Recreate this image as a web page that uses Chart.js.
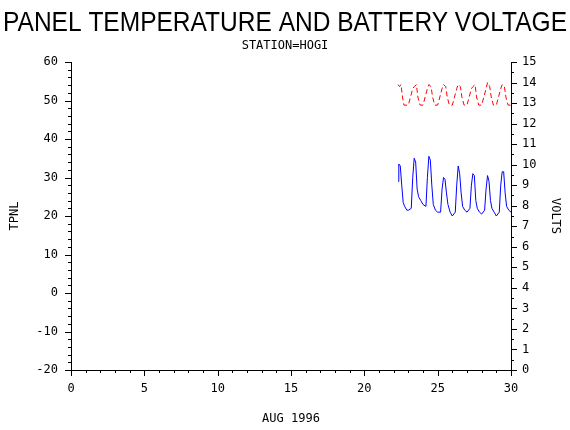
<!DOCTYPE html>
<html><head>
<script src="https://cdn.jsdelivr.net/npm/chart.js@4"></script>
<style>body{margin:0;background:#fff}</style>
</head><body>
<canvas id="chart" width="570" height="430"></canvas>
<script>
const tempX = [22.3,22.35,22.45,22.55,22.65,22.75,22.9,23.0,23.2,23.3,23.4,23.5,23.6,23.7,23.85,24.0,24.2,24.3,24.4,24.5,24.6,24.7,24.85,25.0,25.2,25.3,25.4,25.5,25.6,25.7,25.85,26.0,26.2,26.3,26.4,26.5,26.6,26.7,26.85,27.0,27.2,27.3,27.4,27.5,27.6,27.7,27.85,28.0,28.2,28.3,28.4,28.5,28.6,28.7,28.85,29.0,29.2,29.3,29.4,29.5,29.6,29.7,29.85,30.0];
const tempY = [29,33.5,33,28,23.5,22.5,21.5,21.5,22,30,35,34,27,25,24,23,22.5,30,35.5,34.5,28,23,21.5,21,21,27,30,29.5,26,23,21,20,21,28,33,31,26,22.5,21.5,21,22,28,31,30.5,24,22,21,20.5,21.5,27,30.5,29,24,22,21,20,21,28,31.5,31.5,26,22.5,21.5,21];
const voltX = [22.3,22.4,22.5,22.6,22.7,23.0,23.3,23.4,23.55,23.65,23.8,24.0,24.3,24.4,24.55,24.65,24.8,25.0,25.3,25.4,25.55,25.65,25.8,26.0,26.3,26.4,26.55,26.65,26.8,27.0,27.3,27.4,27.55,27.65,27.8,28.0,28.3,28.4,28.55,28.65,28.8,29.0,29.3,29.4,29.55,29.65,29.8,30.0];
const voltY = [13.9,13.8,13.9,13.3,12.9,12.9,13.7,13.8,13.9,13.3,12.9,12.9,13.7,13.9,13.8,13.3,12.9,12.9,13.7,13.9,13.8,13.3,12.9,12.9,13.7,13.9,13.8,13.3,12.9,12.9,13.7,13.8,13.9,13.3,12.9,12.9,13.7,14.0,13.8,13.3,12.9,12.9,13.7,13.9,13.8,13.3,12.9,12.9];

const font = {family: 'DejaVu Sans Mono', size: 12};

//minor ticks and titles
const extras = {
  id: 'extras',
  afterDraw(chart) {
    const c = chart.ctx, a = chart.chartArea;
    c.save();
    c.strokeStyle = '#000'; c.lineWidth = 1;
    const x = chart.scales.x, y = chart.scales.y, y2 = chart.scales.y2;
    for (let d = 0; d <= 30; d++) {
      const p = Math.round(x.getPixelForValue(d)) + 0.5;
      c.beginPath(); c.moveTo(p, a.bottom); c.lineTo(p, a.bottom + (d % 5 ? 3 : 6)); c.stroke();
    }
    for (let v = -20; v <= 60; v += 2) {
      const p = Math.round(y.getPixelForValue(v)) + 0.5;
      c.beginPath(); c.moveTo(a.left, p); c.lineTo(a.left - (v % 10 ? 3 : 6), p); c.stroke();
    }
    for (let v = 0; v <= 15; v += 0.5) {
      const p = Math.round(y2.getPixelForValue(v)) + 0.5;
      c.beginPath(); c.moveTo(a.right, p); c.lineTo(a.right + (v % 1 ? 3 : 6), p); c.stroke();
    }
    c.fillStyle = '#000'; c.textAlign = 'center';
    c.font = '28px "Liberation Sans"';
    const t = 'PANEL TEMPERATURE AND BATTERY VOLTAGE';
    const k = 564 / c.measureText(t).width;
    c.save(); c.translate(285, 31); c.scale(k, 1); c.fillText(t, 0, 0); c.restore();
    c.font = '12px "DejaVu Sans Mono"';
    c.fillText('STATION=HOGI', 285, 49);
    c.restore();
  }
};

new Chart(document.getElementById('chart'), {
  type: 'line',
  data: {
    datasets: [
      {data: tempX.map((v, i) => ({x: v, y: tempY[i]})), borderColor: '#0000ff', borderWidth: 1, pointRadius: 0, tension: 0, yAxisID: 'y'},
      {data: voltX.map((v, i) => ({x: v, y: voltY[i]})), borderColor: '#ff0000', borderWidth: 1, borderDash: [5, 3], pointRadius: 0, yAxisID: 'y2'}
    ]
  },
  options: {
    animation: false, responsive: false,
    layout: {padding: {top: 62, left: 4, right: 4}},
    plugins: {legend: {display: false}, tooltip: {enabled: false}},
    scales: {
      x: {type: 'linear', min: 0, max: 30,
        ticks: {stepSize: 5, color: '#000', font: font, maxRotation: 0, padding: 12},
        grid: {display: false, drawTicks: false}, border: {color: '#000'},
        title: {display: true, text: 'AUG 1996', color: '#000', font: font, padding: {top: 8}},
        afterFit: s => { s.height = 60; }},
      y: {position: 'left', min: -20, max: 60,
        ticks: {stepSize: 10, color: '#000', font: font, padding: 13},
        grid: {display: false, drawTicks: false}, border: {color: '#000'},
        title: {display: true, text: 'TPNL', color: '#000', font: font},
        afterFit: s => { s.width = 67; }},
      y2: {position: 'right', min: 0, max: 15,
        ticks: {stepSize: 1, color: '#000', font: font, padding: 11},
        grid: {display: false, drawTicks: false}, border: {color: '#000'},
        title: {display: true, text: 'VOLTS', color: '#000', font: font},
        afterFit: s => { s.width = 55; }}
    }
  },
  plugins: [extras]
});
</script>
</body></html>
